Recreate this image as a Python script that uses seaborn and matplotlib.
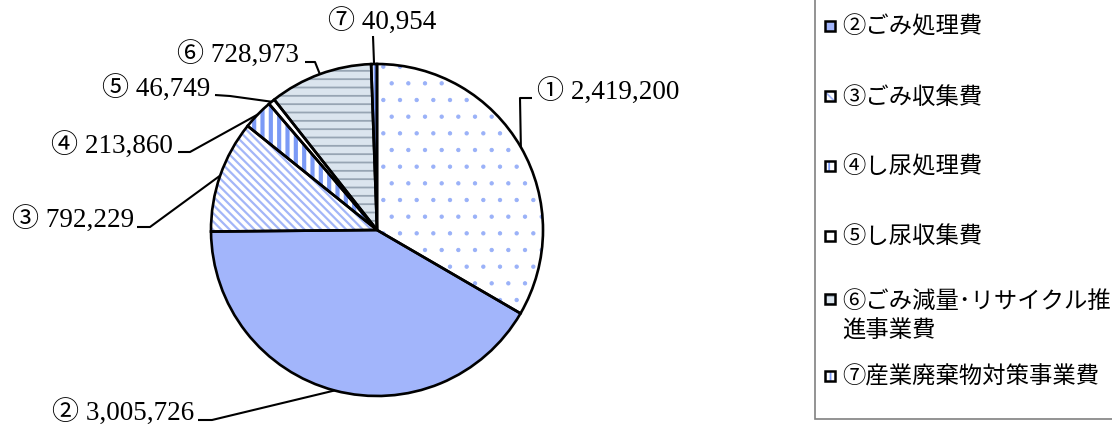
import matplotlib
matplotlib.use("Agg")
import matplotlib.pyplot as plt
from matplotlib.patches import Rectangle
import numpy as np
import seaborn as sns

# data
marks = ["①", "②", "③", "④", "⑤", "⑥", "⑦"]
values = [2419200, 3005726, 792229, 213860, 46749, 728973, 40954]
legend_labels = ["②ごみ処理費", "③ごみ収集費", "④し尿処理費", "⑤し尿収集費",
                 "⑥ごみ減量･リサイクル推\n進事業費", "⑦産業廃棄物対策事業費"]

# styles
faces = ["#ffffff", "#a2b5fb", "#ffffff", "#ffffff", "#ffffff", "#dbe5ee", "#ffffff"]
hatches = [".", "", "\\\\\\\\", "||", "", "--", "|||"]
hatch_cols = ["#9ab1f8", "#a2b5fb", "#a3b6f8", "#7b9af6", "#ffffff", "#97a5b3", "#7b9af6"]
hatch_lws = [0.7, 1.0, 1.6, 3.0, 1.0, 1.3, 2.0]

sns.set_theme(style="white")
plt.rcParams["hatch.linewidth"] = 1.3
num_font = ["Liberation Serif", "Noto Sans CJK JP"]
jp_font = ["Noto Sans CJK JP", "DejaVu Sans"]

fig = plt.figure(figsize=(11.12, 4.27), dpi=100)
ax = fig.add_axes([0, 0, 1, 1])

cx, cy, r = 377, 231, 166
# y axis is inverted (pixel-like), so counterclockwise in data is clockwise on screen
wedges, _ = ax.pie(values, startangle=-90, counterclock=True, center=(cx, cy),
                   radius=r, colors=faces, wedgeprops=dict(linewidth=0))
for w, h, hc, hl in zip(wedges, hatches, hatch_cols, hatch_lws):
    w.set_hatch(h)
    w.set_edgecolor(hc)
    if hasattr(w, "set_hatch_linewidth"):
        w.set_hatch_linewidth(hl)
    else:
        w._hatch_linewidth = hl
ax.pie(values, startangle=-90, counterclock=True, center=(cx, cy), radius=r,
       wedgeprops=dict(fill=False, edgecolor="black", linewidth=1.9))

ax.set_xlim(0, 1112)
ax.set_ylim(427, 0)
ax.set_aspect("auto")
ax.axis("off")

# labels with leader lines
text_pos = [(537, 100, "left"), (194, 421, "right"), (134, 228, "right"),
            (173, 154, "right"), (210, 97, "right"), (299, 63, "right"),
            (382, 30, "center")]
stubs = [[(532, 99), (520, 99)], [(198, 421), (212, 421)], [(137, 228), (150, 228)],
         [(178, 153), (190, 153)], [(215, 96), (230, 97)], [(305, 63), (315, 63)],
         [(373, 37)]]
for w, m, v, (tx, ty, ha), st in zip(wedges, marks, values, text_pos, stubs):
    ax.text(tx, ty, f"{m} {v:,}", ha=ha, va="baseline", fontsize=19.5,
            family=num_font, color="black")
    ang = np.deg2rad((w.theta1 + w.theta2) / 2)
    px, py = cx + r * np.cos(ang), cy + r * np.sin(ang)
    xs = [p[0] for p in st] + [px]
    ys = [p[1] for p in st] + [py]
    ax.plot(xs, ys, color="black", lw=1.5, clip_on=False, solid_capstyle="butt")

# legend (top part is cut off in the original)
ax.add_patch(Rectangle((815, -20), 320, 440, fill=False, edgecolor="#808080",
                       lw=1.2, clip_on=False))
legend_y = [27, 97, 167, 237, 316, 377]
for i, (lab, ly) in enumerate(zip(legend_labels, legend_y)):
    k = i + 1
    yy = ly if "\n" not in lab else 300
    sq = Rectangle((825, yy - 5), 10, 10, facecolor=faces[k], hatch=hatches[k],
                   edgecolor=hatch_cols[k], lw=0)
    ax.add_patch(sq)
    ax.add_patch(Rectangle((825, yy - 5), 10, 10, fill=False, edgecolor="black", lw=1.8))
    ax.text(842, ly, lab, ha="left", va="center", fontsize=16.8, family=jp_font,
            linespacing=1.38, color="black")

fig.savefig("out.png", dpi=100)
